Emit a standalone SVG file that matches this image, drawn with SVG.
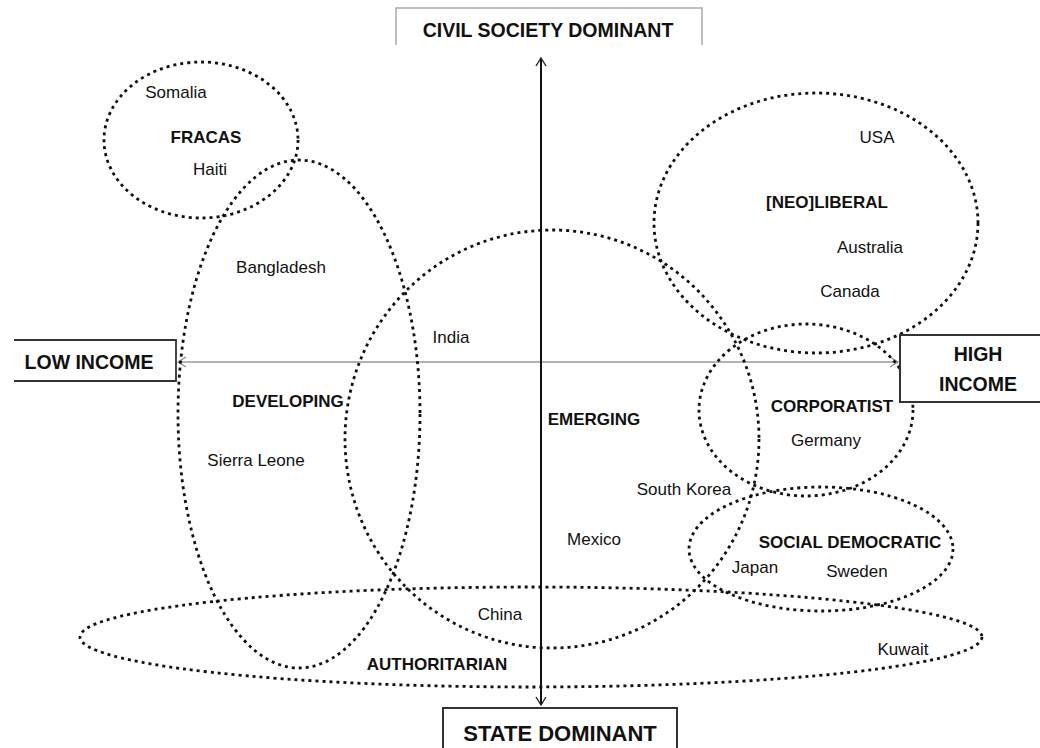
<svg xmlns="http://www.w3.org/2000/svg" width="1040" height="748" viewBox="0 0 1040 748">
<defs>
<style>
.dot{fill:none;stroke:#111;stroke-width:2.8;stroke-dasharray:3 4}
.t{font-family:"Liberation Sans",Arial,sans-serif;font-size:17px;fill:#111;text-anchor:middle}
.b{font-family:"Liberation Sans",Arial,sans-serif;font-size:17px;font-weight:bold;fill:#111;text-anchor:middle}
.ax{font-family:"Liberation Sans",Arial,sans-serif;font-weight:bold;fill:#111;text-anchor:middle}
.box{fill:#fff;stroke:#333;stroke-width:2}
</style>
<marker id="ah" markerWidth="12" markerHeight="12" refX="10" refY="6" orient="auto-start-reverse" markerUnits="userSpaceOnUse">
<path d="M2,1 L10,6 L2,11" fill="none" stroke="#222" stroke-width="1.4"/>
</marker>
<marker id="ahg" markerWidth="12" markerHeight="12" refX="10" refY="6" orient="auto-start-reverse" markerUnits="userSpaceOnUse">
<path d="M2,1 L10,6 L2,11" fill="none" stroke="#888" stroke-width="1.2"/>
</marker>
</defs>
<rect width="1040" height="748" fill="#fff"/>

<g id="connectors">
<line x1="178" y1="362" x2="898" y2="362" stroke="#999" stroke-width="1.5" marker-start="url(#ahg)" marker-end="url(#ahg)"/>
<line x1="541" y1="58" x2="541" y2="705" stroke="#111" stroke-width="2" marker-start="url(#ah)" marker-end="url(#ah)"/>
</g>

<g id="fracas">
<ellipse class="dot" cx="201" cy="140" rx="97" ry="78"/>
<text class="t" x="176" y="98">Somalia</text>
<text class="b" x="206" y="143">FRACAS</text>
<text class="t" x="210" y="175">Haiti</text>
</g>

<g id="developing">
<ellipse class="dot" cx="299" cy="414" rx="121" ry="254"/>
<text class="t" x="281" y="273">Bangladesh</text>
<text class="b" x="288" y="407">DEVELOPING</text>
<text class="t" x="256" y="466">Sierra Leone</text>
</g>

<g id="emerging">
<ellipse class="dot" cx="552" cy="439" rx="207" ry="209"/>
<text class="t" x="451" y="343">India</text>
<text class="b" x="594" y="425">EMERGING</text>
<text class="t" x="684" y="495">South Korea</text>
<text class="t" x="594" y="545">Mexico</text>
</g>

<g id="neoliberal">
<ellipse class="dot" cx="816" cy="223" rx="162" ry="130"/>
<text class="t" x="877" y="143">USA</text>
<text class="b" x="827" y="208">[NEO]LIBERAL</text>
<text class="t" x="870" y="253">Australia</text>
<text class="t" x="850" y="297">Canada</text>
</g>

<g id="corporatist">
<ellipse class="dot" cx="806" cy="410" rx="107" ry="86"/>
<text class="b" x="832" y="412">CORPORATIST</text>
<text class="t" x="826" y="446">Germany</text>
</g>

<g id="socialdemocratic">
<ellipse class="dot" cx="821" cy="549" rx="132" ry="62"/>
<text class="b" x="850" y="548">SOCIAL DEMOCRATIC</text>
<text class="t" x="755" y="573">Japan</text>
<text class="t" x="857" y="577">Sweden</text>
</g>

<g id="authoritarian">
<ellipse class="dot" cx="531" cy="637" rx="451" ry="50"/>
<text class="t" x="500" y="620">China</text>
<text class="b" x="437" y="670">AUTHORITARIAN</text>
<text class="t" x="903" y="655">Kuwait</text>
</g>

<g id="civil-society-dominant">
<path d="M396,45 V8 H702 V45" fill="none" stroke="#aaa" stroke-width="1.5"/>
<text class="ax" x="548" y="37" font-size="19.5">CIVIL SOCIETY DOMINANT</text>
</g>

<g id="state-dominant">
<rect class="box" x="443" y="708" width="234" height="50"/>
<text class="ax" x="560" y="741" font-size="22">STATE DOMINANT</text>
</g>

<g id="low-income">
<path d="M14,340 H176 V381 H14" fill="#fff" stroke="#333" stroke-width="1.8"/>
<text class="ax" x="89" y="369" font-size="19.5">LOW INCOME</text>
</g>

<g id="high-income">
<rect class="box" x="900" y="335" width="150" height="67"/>
<text class="ax" x="978" y="361" font-size="19.5">HIGH</text>
<text class="ax" x="978" y="391" font-size="19.5">INCOME</text>
</g>
</svg>
